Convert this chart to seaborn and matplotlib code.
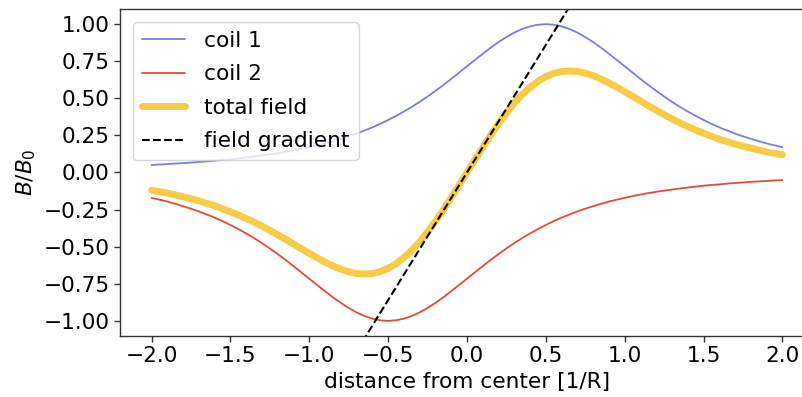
import numpy as np
import pandas as pd
import matplotlib
matplotlib.use("Agg")
import matplotlib.pyplot as plt
import seaborn as sns

# distance from center [1/R], sampled every 0.05 from -2 to 2
x_vals = np.round(np.linspace(-2.0, 2.0, 81), 2)

coil1 = [0.051, 0.054, 0.057, 0.060, 0.063, 0.067, 0.071, 0.075, 0.080, 0.084,
         0.089, 0.095, 0.101, 0.108, 0.115, 0.122, 0.130, 0.139, 0.149, 0.159,
         0.171, 0.183, 0.196, 0.211, 0.227, 0.244, 0.262, 0.283, 0.304, 0.328,
         0.354, 0.381, 0.411, 0.442, 0.476, 0.512, 0.550, 0.589, 0.631, 0.673,
         0.716, 0.758, 0.800, 0.841, 0.879, 0.913, 0.943, 0.967, 0.985, 0.996,
         1.000,
         0.996, 0.985, 0.967, 0.943, 0.913, 0.879, 0.841, 0.800, 0.758, 0.716,
         0.673, 0.631, 0.589, 0.550, 0.512, 0.476, 0.442, 0.411, 0.381, 0.354,
         0.328, 0.304, 0.283, 0.262, 0.244, 0.227, 0.211, 0.196, 0.183, 0.171]

coil2 = [-0.171, -0.183, -0.196, -0.211, -0.227, -0.244, -0.262, -0.283, -0.304, -0.328,
         -0.354, -0.381, -0.411, -0.442, -0.476, -0.512, -0.550, -0.589, -0.631, -0.673,
         -0.716, -0.758, -0.800, -0.841, -0.879, -0.913, -0.943, -0.967, -0.985, -0.996,
         -1.000,
         -0.996, -0.985, -0.967, -0.943, -0.913, -0.879, -0.841, -0.800, -0.758, -0.716,
         -0.673, -0.631, -0.589, -0.550, -0.512, -0.476, -0.442, -0.411, -0.381, -0.354,
         -0.328, -0.304, -0.283, -0.262, -0.244, -0.227, -0.211, -0.196, -0.183, -0.171,
         -0.159, -0.149, -0.139, -0.130, -0.122, -0.115, -0.108, -0.101, -0.095, -0.089,
         -0.084, -0.080, -0.075, -0.071, -0.067, -0.063, -0.060, -0.057, -0.054, -0.051]

total = [-0.120, -0.129, -0.139, -0.151, -0.164, -0.177, -0.191, -0.208, -0.224, -0.244,
         -0.265, -0.286, -0.310, -0.334, -0.361, -0.390, -0.420, -0.450, -0.482, -0.514,
         -0.545, -0.575, -0.604, -0.630, -0.652, -0.669, -0.681, -0.684, -0.681, -0.668,
         -0.646, -0.615, -0.574, -0.525, -0.467, -0.401, -0.329, -0.252, -0.169, -0.085,
         0.000,
         0.085, 0.169, 0.252, 0.329, 0.401, 0.467, 0.525, 0.574, 0.615, 0.646,
         0.668, 0.681, 0.684, 0.681, 0.669, 0.652, 0.630, 0.604, 0.575, 0.545,
         0.514, 0.482, 0.450, 0.420, 0.390, 0.361, 0.334, 0.310, 0.286, 0.265,
         0.244, 0.224, 0.208, 0.191, 0.177, 0.164, 0.151, 0.139, 0.129, 0.120]

gradient_slope = 1.72
gradient_x = [-2.0, 2.0]

sns.set_style("white")
plt.rcParams['font.family'] = ['DejaVu Sans']
plt.rcParams['text.color'] = 'black'
plt.rcParams['axes.labelcolor'] = 'black'
plt.rcParams['xtick.color'] = 'black'
plt.rcParams['ytick.color'] = 'black'

FS = 15.6

fig = plt.figure(figsize=(8.03, 3.97), dpi=100)
ax = fig.add_axes([0.1494, 0.1544, 0.8643, 0.8222])

df = pd.DataFrame({"x": x_vals, "coil 1": coil1, "coil 2": coil2, "total field": total})
grad_df = pd.DataFrame({"x": gradient_x,
                        "y": [gradient_slope * v for v in gradient_x]})

sns.lineplot(data=df, x="x", y="coil 1", ax=ax, color="#7b7be3", lw=1.3, label="coil 1")
sns.lineplot(data=df, x="x", y="coil 2", ax=ax, color="#e04a3a", lw=1.3, label="coil 2")
sns.lineplot(data=df, x="x", y="total field", ax=ax, color="#f5cb48", lw=5, label="total field")
sns.lineplot(data=grad_df, x="x", y="y", ax=ax, color="black", lw=1.5, ls="--",
             label="field gradient")

ax.set_xlim(-2.2, 2.2)
ax.set_ylim(-1.1, 1.1)
ax.set_xticks([-2.0, -1.5, -1.0, -0.5, 0.0, 0.5, 1.0, 1.5, 2.0])
ax.set_yticks([-1.0, -0.75, -0.5, -0.25, 0.0, 0.25, 0.5, 0.75, 1.0])
ax.tick_params(axis="both", labelsize=FS, length=4, width=1, direction="out",
               bottom=True, left=True, color="#333333", labelcolor="black")
ax.set_xlabel("distance from center [1/R]", fontsize=FS, color="black")
ax.set_ylabel(r"$B/B_0$", fontsize=FS, color="black")
for s in ax.spines.values():
    s.set_color("#333333")
    s.set_linewidth(1.0)

leg = ax.legend(loc="upper left", fontsize=FS, frameon=True, handlelength=2.0,
                borderaxespad=0.6, labelspacing=0.62, handletextpad=0.9)
leg.get_frame().set_edgecolor("#cccccc")
for t in leg.get_texts():
    t.set_color("black")

fig.savefig("out.png", dpi=100)
